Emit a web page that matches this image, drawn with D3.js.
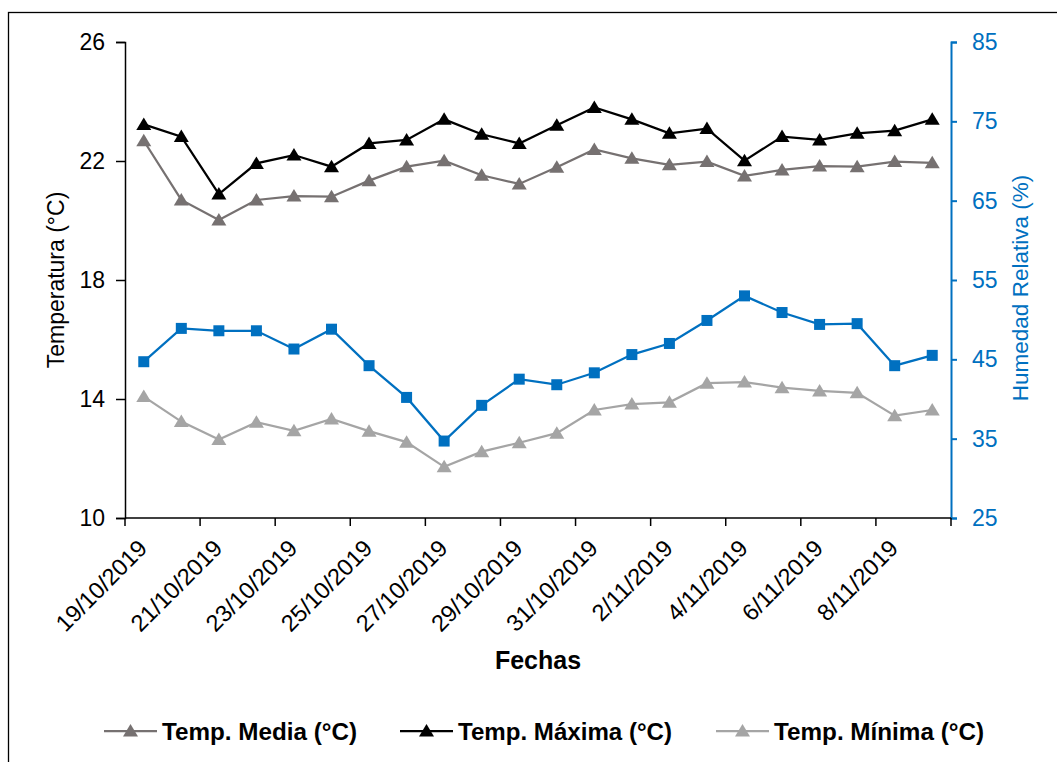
<!DOCTYPE html>
<html>
<head>
<meta charset="utf-8">
<script src="https://cdn.jsdelivr.net/npm/d3@7"></script>
<style>
  html, body { margin: 0; padding: 0; background: #fff; }
  svg { display: block; }
  text { font-family: "Liberation Sans", Arial, sans-serif; }
</style>
</head>
<body>
<svg id="chart" width="1057" height="762"></svg>
<script>
// ---- Data ----
const dates = [
  "19/10/2019","20/10/2019","21/10/2019","22/10/2019","23/10/2019","24/10/2019",
  "25/10/2019","26/10/2019","27/10/2019","28/10/2019","29/10/2019","30/10/2019",
  "31/10/2019","1/11/2019","2/11/2019","3/11/2019","4/11/2019","5/11/2019",
  "6/11/2019","7/11/2019","8/11/2019","9/11/2019"
];
const tempMedia = [22.68, 20.69, 20.02, 20.69, 20.82, 20.80, 21.34, 21.81, 22.01, 21.52, 21.23,
                   21.79, 22.39, 22.09, 21.87, 21.98, 21.50, 21.70, 21.83, 21.81, 21.98, 21.94];
const tempMax   = [23.23, 22.82, 20.89, 21.92, 22.20, 21.81, 22.59, 22.71, 23.40, 22.90, 22.59,
                   23.20, 23.80, 23.40, 22.93, 23.09, 22.01, 22.82, 22.71, 22.93, 23.02, 23.40];
const tempMin   = [14.08, 13.24, 12.64, 13.22, 12.93, 13.33, 12.92, 12.55, 11.72, 12.23, 12.53,
                   12.85, 13.63, 13.83, 13.89, 14.53, 14.57, 14.38, 14.27, 14.21, 13.44, 13.63];
const humedad   = [44.7, 48.9, 48.6, 48.6, 46.3, 48.8, 44.2, 40.2, 34.7, 39.2, 42.5,
                   41.8, 43.3, 45.6, 47.0, 49.9, 53.0, 50.9, 49.4, 49.5, 44.2, 45.5];
const leftTicks  = [10, 14, 18, 22, 26];
const rightTicks = [25, 35, 45, 55, 65, 75, 85];

const seriesTemp = [
  { name: "Temp. Media (°C)",  values: tempMedia, color: "#767171" },
  { name: "Temp. Máxima (°C)", values: tempMax,   color: "#000000" },
  { name: "Temp. Mínima (°C)", values: tempMin,   color: "#A5A5A5" }
];
const humColor = "#0070C0";

// ---- Layout ----
const svg = d3.select("#chart");
const plot = { left: 125, right: 951, top: 42, bottom: 518 };

svg.append("rect")
  .attr("x", 8.5).attr("y", 12.5).attr("width", 1200).attr("height", 900)
  .attr("fill", "none").attr("stroke", "#000").attr("stroke-width", 1.3);

const x = d3.scaleBand().domain(dates).range([plot.left, plot.right]).padding(0);
const yL = d3.scaleLinear().domain([10, 26]).range([plot.bottom, plot.top]);
const yR = d3.scaleLinear().domain([25, 85]).range([plot.bottom, plot.top]);
const cx = d => x(d) + x.bandwidth() / 2;

// ---- Left axis ----
const gL = svg.append("g").attr("transform", `translate(${plot.left},0)`)
  .call(d3.axisLeft(yL).tickValues(leftTicks).tickSize(9).tickPadding(11).tickFormat(d3.format("d")));
gL.select(".domain").attr("stroke", "#000").attr("stroke-width", 1.5);
gL.selectAll(".tick line").attr("stroke", "#000").attr("stroke-width", 1.5);
gL.selectAll(".tick text").attr("font-size", 23).attr("fill", "#000")
  .attr("font-family", "Liberation Sans, Arial, sans-serif");

// ---- Right axis ----
const gR = svg.append("g").attr("transform", `translate(${plot.right},0)`)
  .call(d3.axisRight(yR).tickValues(rightTicks).tickSize(6).tickPadding(15).tickFormat(d3.format("d")));
gR.select(".domain").attr("stroke", humColor).attr("stroke-width", 2);
gR.selectAll(".tick line").attr("stroke", humColor).attr("stroke-width", 2);
gR.selectAll(".tick text").attr("font-size", 23).attr("fill", humColor)
  .attr("font-family", "Liberation Sans, Arial, sans-serif");

// ---- X axis ----
const gX = svg.append("g").attr("transform", `translate(0,${plot.bottom})`);
gX.append("line").attr("x1", plot.left).attr("x2", plot.right)
  .attr("stroke", "#000").attr("stroke-width", 1.5);
const tickPos = dates.filter((d, i) => i % 2 === 0).map(d => x(d)).concat([plot.right]);
gX.selectAll("line.tk").data(tickPos).enter().append("line").attr("class", "tk")
  .attr("x1", d => d).attr("x2", d => d).attr("y1", 0).attr("y2", 8)
  .attr("stroke", "#000").attr("stroke-width", 1.5);
gX.selectAll("text.lbl").data(dates.filter((d, i) => i % 2 === 0)).enter().append("text")
  .attr("class", "lbl")
  .attr("transform", d => `translate(${cx(d) - 1},${26}) rotate(-45)`)
  .attr("text-anchor", "end").attr("dy", "0.35em")
  .attr("font-size", 23.5).attr("fill", "#000")
  .text(d => d);

// ---- Axis titles ----
svg.append("text").attr("transform", `translate(${64},${(plot.top + plot.bottom) / 2}) rotate(-90)`)
  .attr("text-anchor", "middle").attr("font-size", 23).attr("fill", "#000")
  .text("Temperatura (°C)");
svg.append("text").attr("transform", `translate(${1028},${(plot.top + plot.bottom) / 2 + 8}) rotate(-90)`)
  .attr("text-anchor", "middle").attr("font-size", 22.5).attr("fill", humColor)
  .text("Humedad Relativa (%)");
svg.append("text").attr("x", 538).attr("y", 669)
  .attr("text-anchor", "middle").attr("font-size", 25).attr("font-weight", "bold").attr("fill", "#000")
  .text("Fechas");

// ---- Markers ----
const triPath = "M0,-7L7.5,5.5L-7.5,5.5Z";
const sqSize = 11;

// ---- Humidity series (secondary axis) ----
const hum = dates.map((d, i) => ({ d, v: humedad[i] }));
svg.append("path").datum(hum)
  .attr("fill", "none").attr("stroke", humColor).attr("stroke-width", 2.25)
  .attr("d", d3.line().x(p => cx(p.d)).y(p => yR(p.v)));
svg.append("g").selectAll("rect").data(hum).enter().append("rect")
  .attr("x", p => cx(p.d) - sqSize / 2).attr("y", p => yR(p.v) - sqSize / 2)
  .attr("width", sqSize).attr("height", sqSize).attr("fill", humColor);

// ---- Temperature series ----
seriesTemp.forEach(s => {
  const pts = dates.map((d, i) => ({ d, v: s.values[i] }));
  svg.append("path").datum(pts)
    .attr("fill", "none").attr("stroke", s.color).attr("stroke-width", 2.25)
    .attr("d", d3.line().x(p => cx(p.d)).y(p => yL(p.v)));
  svg.append("g").selectAll("path").data(pts).enter().append("path")
    .attr("d", triPath)
    .attr("transform", p => `translate(${cx(p.d)},${yL(p.v)})`)
    .attr("fill", s.color);
});

// ---- Legend ----
const legendX = [104, 400, 716];
const legendW = [195, 214, 210];
const legY = 731;
const lg = svg.append("g");
seriesTemp.forEach((s, i) => {
  const g = lg.append("g").attr("transform", `translate(${legendX[i]},${legY})`);
  g.append("line").attr("x1", 0).attr("x2", 53).attr("y1", 0).attr("y2", 0)
    .attr("stroke", s.color).attr("stroke-width", 2.25);
  g.append("path").attr("d", triPath).attr("transform", "translate(26.5,0)").attr("fill", s.color);
  g.append("text").attr("x", 58).attr("y", 0).attr("dy", "0.36em")
    .attr("font-size", 24.5).attr("font-weight", "bold").attr("fill", "#000")
    .attr("textLength", legendW[i]).attr("lengthAdjust", "spacingAndGlyphs")
    .text(s.name);
});
</script>
</body>
</html>
